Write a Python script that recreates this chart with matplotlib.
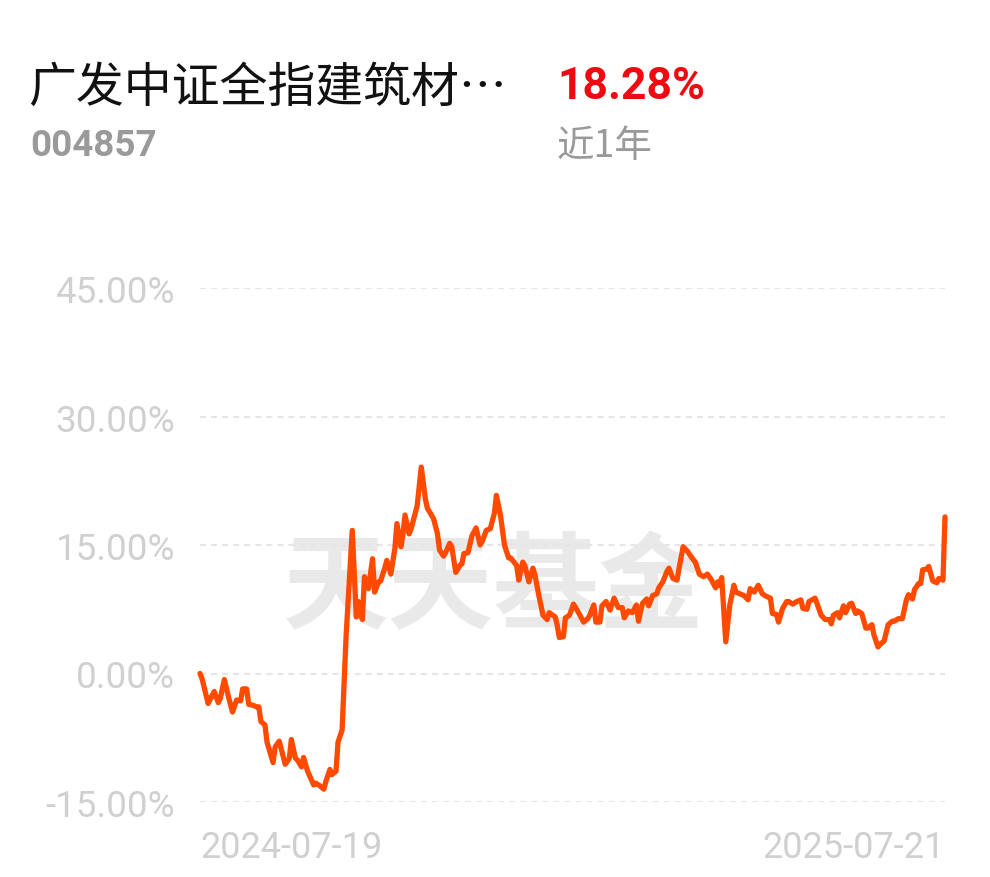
import pandas as pd
import matplotlib
matplotlib.use('Agg')
import matplotlib.pyplot as plt

# fund info
fund_name = '广发中证全指建筑材…'
fund_code = '004857'
period_return = '18.28%'
period_label = '近1年'

start_date = '2024-07-19'
end_date = '2025-07-21'

# days since start date
day_offsets = [
    0, 1, 4, 7, 9, 10, 12, 14, 16, 18, 20, 21, 23, 24, 26, 28, 29, 30, 32, 33,
    36, 37, 39, 42, 44, 45, 47, 48, 50, 51, 53, 56, 57, 59, 61, 62, 64, 65, 67, 68,
    70, 72, 75, 77, 78, 79, 80, 81, 83, 85, 86, 88, 89, 91, 92, 94, 96, 97, 99, 100,
    101, 103, 104, 107, 109, 111, 112, 115, 117, 118, 120, 121, 123, 124, 126, 128, 129, 130, 132, 134,
    136, 138, 139, 141, 143, 145, 146, 148, 150, 152, 153, 156, 157, 159, 160, 162, 164, 165, 167, 169,
    171, 172, 175, 176, 177, 179, 180, 182, 184, 186, 189, 191, 192, 194, 195, 197, 198, 200, 202, 204,
    206, 208, 209, 211, 213, 215, 216, 218, 220, 221, 223, 225, 226, 228, 230, 231, 233, 235, 236, 238,
    240, 242, 244, 246, 248, 250, 252, 254, 255, 256, 257, 259, 261, 263, 264, 267, 268, 270, 271, 273,
    274, 275, 277, 279, 281, 282, 284, 285, 287, 289, 290, 292, 294, 296, 297, 299, 300, 303, 306, 308,
    310, 311, 312, 314, 315, 317, 318, 320, 321, 323, 324, 326, 328, 329, 331, 332, 334, 335, 337, 339,
    341, 342, 344, 346, 348, 349, 351, 352, 354, 355, 356, 358, 359, 361, 363, 364, 366, 367,
]

# cumulative return in percent
returns = [
    0.0, -0.6, -3.5, -2.1, -3.4, -2.9, -0.7, -2.7, -4.5, -3.1, -3.2, -1.8, -1.8, -3.6, -3.7, -3.9, -3.9, -5.6, -6.0, -8.0,
    -10.4, -8.6, -7.9, -10.6, -9.9, -7.7, -9.9, -10.1, -10.9, -9.8, -11.4, -13.0, -12.8, -13.1, -13.5, -12.6, -11.2, -11.8, -11.4, -8.0,
    -6.6, 4.5, 16.7, 6.6, 8.4, 7.2, 6.3, 11.3, 9.9, 13.4, 9.5, 10.7, 10.8, 12.3, 13.2, 11.6, 14.6, 17.5, 14.8, 16.3,
    18.5, 16.3, 16.9, 19.6, 24.1, 20.4, 19.3, 18.1, 16.3, 14.4, 13.7, 14.1, 15.2, 14.8, 11.8, 12.6, 12.8, 14.0, 14.1, 16.1,
    17.0, 15.0, 15.4, 16.7, 16.9, 18.7, 20.8, 18.5, 15.0, 13.5, 13.5, 12.6, 10.9, 13.0, 12.6, 10.7, 12.3, 11.5, 9.0, 6.8,
    6.3, 7.1, 6.6, 5.6, 4.2, 4.3, 6.5, 6.8, 8.1, 7.3, 6.0, 6.4, 6.8, 8.0, 6.0, 6.0, 7.9, 8.4, 7.4, 8.8,
    7.7, 7.7, 6.5, 7.3, 7.1, 8.0, 6.1, 8.2, 8.7, 7.9, 9.1, 9.3, 10.0, 10.7, 11.9, 12.3, 11.1, 10.9, 12.3, 14.8,
    14.3, 13.6, 13.0, 11.6, 11.3, 11.6, 10.9, 10.0, 10.7, 10.3, 11.2, 3.7, 8.0, 10.3, 9.5, 9.2, 9.1, 8.6, 9.9, 9.5,
    9.9, 10.3, 9.3, 9.0, 8.8, 7.0, 6.9, 6.0, 7.6, 8.4, 8.4, 8.1, 8.4, 8.6, 7.6, 7.5, 8.4, 8.8, 6.8, 6.3,
    6.3, 5.8, 6.8, 7.1, 6.5, 7.9, 7.1, 8.1, 8.2, 7.0, 7.3, 7.0, 5.3, 5.3, 5.7, 4.5, 3.1, 3.4, 3.8, 5.7,
    6.1, 6.1, 6.4, 6.4, 8.6, 9.2, 8.7, 9.8, 10.5, 10.5, 12.1, 12.2, 12.5, 10.8, 10.6, 11.1, 10.9, 18.28,
]

y_ticks = [-15, 0, 15, 30, 45]

W, H = 990, 878
cjk = ['Noto Sans CJK SC', 'DejaVu Sans']

fig = plt.figure(figsize=(W / 100, H / 100), dpi=100)
fig.patch.set_facecolor('white')

# plot area: 200..945 px horizontally, 45% at y=289, -15% at y=803
ax = fig.add_axes([200 / W, 1 - 803 / H, 745 / W, (803 - 289) / H])
ax.set_facecolor('none')

dates = pd.Timestamp(start_date) + pd.to_timedelta(day_offsets, unit='D')

# watermark sits behind everything in the axes
ax.text(494 / W, 1 - 590 / H, '天天基金', transform=fig.transFigure,
        ha='center', va='center', fontsize=76, fontweight='heavy', family=cjk,
        color='#e9e9e9', zorder=0)

for t in y_ticks:
    ax.axhline(t, color='#e6e6e6', lw=1.5, dashes=(2.9, 2.4), zorder=1)

ax.plot(dates, returns, color='#ff4a00', lw=3.8, solid_joinstyle='round',
        solid_capstyle='round', zorder=3, clip_on=False)

ax.set_xlim(pd.Timestamp(start_date), pd.Timestamp(end_date))
ax.set_ylim(-15, 45)
ax.set_yticks(y_ticks)
ax.set_yticklabels([f'{t:.2f}%' for t in y_ticks], fontfamily='Roboto',
                   fontsize=26.5, color='#d0d0d0')
ax.tick_params(axis='y', length=0, pad=18)
ax.set_xticks([])
for s in ax.spines.values():
    s.set_visible(False)

# date labels under the plot
ax.text(0, -0.087, start_date, transform=ax.transAxes, ha='left', va='center',
        fontfamily='Roboto', fontsize=26, color='#d0d0d0')
ax.text(1, -0.087, end_date, transform=ax.transAxes, ha='right', va='center',
        fontfamily='Roboto', fontsize=26, color='#d0d0d0')

# header
fig.text(28 / W, 1 - 88 / H, fund_name, ha='left', va='center',
         fontsize=34.5, family=cjk, color='#111111')
fig.text(557 / W, 1 - 87 / H, period_return, ha='left', va='center',
         fontsize=32, fontweight='bold', family=['Roboto', 'DejaVu Sans'],
         color='#ee0a10')
fig.text(30 / W, 1 - 146 / H, fund_code, ha='left', va='center',
         fontsize=26.5, fontweight='bold', family=['Roboto', 'DejaVu Sans'],
         color='#9a9a9a')
fig.text(557 / W, 1 - 147 / H, period_label, ha='left', va='center',
         fontsize=27, family=cjk, color='#9a9a9a')

fig.savefig('out.png', dpi=100, facecolor='white')
